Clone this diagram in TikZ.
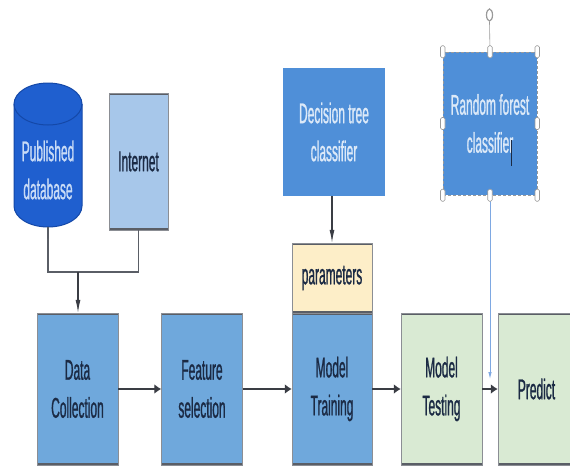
\documentclass[tikz,border=0pt]{standalone}
\usepackage{fontspec}
\setmainfont{Liberation Sans}[FakeStretch=0.42, FakeBold=0.8]
\usetikzlibrary{arrows.meta}

\definecolor{dbblue}{HTML}{1F5FCF}
\definecolor{dbedge}{HTML}{1448A8}
\definecolor{dbtext}{HTML}{C8DBF6}
\definecolor{netfill}{HTML}{A7C7EA}
\definecolor{stepfill}{HTML}{6FA8DC}
\definecolor{clsfill}{HTML}{4F8FD8}
\definecolor{clstext}{HTML}{DCE9F8}
\definecolor{parfill}{HTML}{FDEEC8}
\definecolor{greenfill}{HTML}{D9EAD3}
\definecolor{navytext}{HTML}{1B2A44}
\definecolor{edgegray}{HTML}{5A5E66}
\definecolor{arrowgray}{HTML}{3A3D44}
\definecolor{linkblue}{HTML}{7EA8E2}
\definecolor{handlegray}{HTML}{9A9A9A}

\tikzset{
  txt/.style={font=\fontsize{28.5}{38}\selectfont, align=center, text=navytext},
  box/.style={txt, rectangle, inner sep=0pt, draw=edgegray!70, line width=0.5pt,
    path picture={
      \draw[line width=3.2pt, edgegray]
        (path picture bounding box.north west) -- (path picture bounding box.north east)
        (path picture bounding box.south west) -- (path picture bounding box.south east);
    }},
  stepbox/.style={box, fill=stepfill, minimum width=81pt, minimum height=152pt},
  greenbox/.style={box, fill=greenfill, minimum width=81pt, minimum height=152pt},
  clsbox/.style={txt, rectangle, inner sep=0pt, fill=clsfill, text=clstext},
  flow/.style={draw=arrowgray, line width=1.3pt},
  harrow/.style={flow, -{Latex[length=7pt, width=10pt]}},
  varrow/.style={flow, line width=1.1pt, -{Latex[length=13pt, width=5pt]}},
  handle/.style={draw=handlegray, fill=white, line width=0.6pt, rounded corners=1.5pt,
    minimum width=4.5pt, minimum height=12pt, inner sep=0pt, rectangle},
}

\begin{document}
\begin{tikzpicture}[x=1pt, y=-1pt]
\useasboundingbox (0,0) rectangle (570,466);

% published database: cylinder drawn by hand
\fill[dbblue] (14,104) -- (14,206) arc[start angle=180, end angle=0, x radius=34, y radius=21]
  -- (82,104) -- cycle;
\fill[dbblue] (48,104) ellipse[x radius=34, y radius=21];
\draw[dbedge, line width=1pt] (14,104) -- (14,206)
  arc[start angle=180, end angle=0, x radius=34, y radius=21] -- (82,104);
\draw[dbedge, line width=1pt] (48,104) ellipse[x radius=34, y radius=21];
\node[txt, text=dbtext] (db) at (48,170) {Published\\database};
\coordinate (dbbot) at (48,227);

% sources
\node[box, fill=netfill, minimum width=59pt, minimum height=137pt] (net) at (138.5,161.5) {Internet};

% pipeline
\node[stepbox] (dc) at (77.5,389) {Data\\Collection};
\node[stepbox] (fs) at (202,389) {Feature\\selection};
\node[stepbox, minimum width=80pt] (mtr) at (332,389) {Model\\Training};
\node[greenbox] (mte) at (441.5,389) {Model\\Testing};
\node[greenbox, minimum width=77pt] (pr) at (536.5,389) {Predict};
\node[box, fill=parfill, minimum width=80pt, minimum height=70pt] (par) at (332,278) {parameters};

% classifiers
\node[clsbox, minimum width=102pt, minimum height=128pt] (dt) at (334,132) {Decision tree\\classifier};
\node[clsbox, minimum width=94pt, minimum height=143pt, draw=handlegray, densely dashed, line width=0.5pt] (rf) at (490,123.5) {Random forest\\classifier};

% text cursor after the last word
\draw[navytext, line width=0.6pt] (511.5,140) -- (511.5,166);

% selection handles around the random forest box
\coordinate (rot) at (489.5,15);
\draw[handlegray, line width=0.6pt] (rot) ++(0,7) -- (rf.north);
\draw[handlegray, line width=1.2pt] (rot) ellipse[x radius=3, y radius=6];
\node[handle] (h1) at (rf.north west) {};
\node[handle] (h2) at (rf.north) {};
\node[handle] (h3) at (rf.north east) {};
\node[handle] (h4) at (rf.west) {};
\node[handle] (h5) at (rf.east) {};
\node[handle] (h6) at (rf.south west) {};
\node[handle] (h8) at (rf.south east) {};

% joined inputs into data collection
\coordinate (join) at (78,272);
\draw[flow, line width=1.1pt, edgegray] (dbbot) |- (join) -| (net.south);
\draw[varrow] (join) -- (dc.north -| join);

% classifier feeds
\draw[varrow] (dt.south -| par.north) -- (par.north);
\coordinate (rfend) at (490,379);
\draw[linkblue, line width=0.8pt, -{Latex[length=7pt, width=3.5pt]}] (rf.south) -- (rfend);
\node[handle] (h7) at (rf.south) {};

% main flow
\draw[harrow] (dc.east) -- (fs.west);
\draw[harrow] (fs.east) -- (mtr.west);
\draw[harrow] (mtr.east) -- (mte.west);
\draw[harrow] (mte.east) -- (pr.west);
\end{tikzpicture}
\end{document}
